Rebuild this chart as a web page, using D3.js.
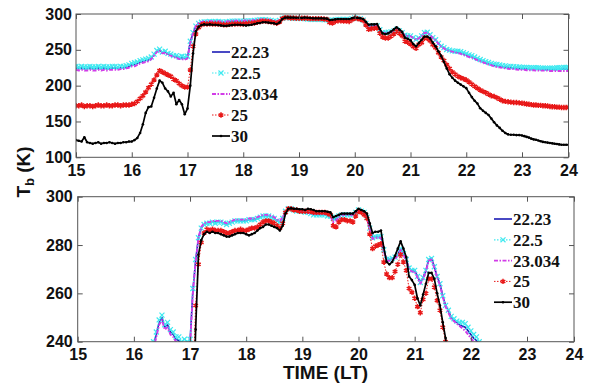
<!DOCTYPE html>
<html>
<head>
<meta charset="utf-8">
<script src="https://cdn.jsdelivr.net/npm/d3@7"></script>
<style>
  body { margin: 0; background: #fff; }
  svg { display: block; }
</style>
</head>
<body>
<svg id="chart" width="595" height="392"></svg>
<script>
// Brightness temperature samples, one every 0.05 h from 15.00 to 24.00 LT
const t0 = 15, dt = 0.05;

const tb2223 = [
  224.5,223.5,224.5,223.5,223.5,224.5,223.5,223.5,224.5,223.5, 224.5,223.5,224,224.5,224.5,224,225,225,226,227, 229,
  229.5,231,233,234,235,236,238.5,243,248,250, 246,247,244,243,241,240.5,238.5,239,238,239.5,
  261,273.5,283,287,288.5,289,289,289.5,289.5,289.5,
  289.5,289,288.5,289,289.5,290,290,290,290,290, 290.5,290.5,290.5,291,291.5,292,292,292,291.5,291, 290,289.5,291,294,295,295,
  294.5,294,294,294,293.5,293.5,293,292.5,292.5,292.5, 292.5,292.5,292,292,290.5,291,292,292.5,292.5,292.5, 292.5,292.5,293.5,294.5,294,293.5,291.5,
  287,283,283.5,283.5,283.5,278,274,274,274.5,275, 276,278.5,276.5,274,270.5,269.5,269.5,267,264.5,266.5, 269.5,274,274.5,271,267,264,259,255,253,
  250,249,248,247,246.5,246,244.5,243,241.5,240.5, 238.5,237,235,234,232,231,230,228.5,228,227, 226.5,226,225.5,225,224.5,224.5,224,224,223.5,223.5,
  223.5,223,223,223,223,222.5,222.5,222.5,222.5,222.5, 222.5,222.5,222.5,223,223,223,223,223
];

const tb225 = [
  227,226,227,226,226,227,226,226,227,226, 227,226,226,227,227,226,227,227,228,229, 231,
  232,233,235,236,237,238,240,244,249,251, 247,248,245,244,242,242,240,241,240,241,
  262,274,283,287,288.5,289,289,289.5,289,289.5,
  289.5,289,288.5,289,289.5,290,290,290,290,290, 290.5,290.5,290.5,291,291.5,292,292,292,291.5,291, 290,289.5,291,294,295,295,
  294.5,294,294,294,293.5,293.5,293,292.5,292.5,292.5, 292.5,292.5,292,292,291,291.5,292,292.5,292.5,292.5, 292.5,292.5,293.5,294.5,294,293.5,291.5,
  287,283,283.5,283.5,283.5,278,274,274,274.5,275, 276,278.5,276.5,274,270.5,269.5,269.5,267,264.5,266.5, 269.5,274,274.5,271,267,264,259,255,253,
  250.5,249.5,248.5,248,248,247.5,246,244.5,243,242, 240,238,236.5,235,233.5,232.5,231,230,229.5,229, 228,227.5,227,227,226.5,226,226,225.5,225.5,225.5,
  225,225,225,225,225,224.5,224.5,224.5,224.5,224.5, 224.5,224.5,225,225,225,225.5,225.5,225.5
];

const tb23034 = [
  222,221,222,221,221,222,221,221,222,221, 222,221,222,222,222,222,223,223,224,225, 227,
  227,229,231,232,233,234,237,242,247,249, 245,246,243,242,240,239,237,237,236,238,
  260,273,283,287.5,289,289.5,289.5,290,290,290,
  290,289.5,289,289.5,290,290.5,290.5,290.5,290.5,290.5, 291,291,291,291.5,292,292.5,292.5,292.5,292,291.5, 290.5,290,291.5,294,295,295,
  294.5,294,294,294,293.5,293.5,293,293,293,293, 293,293,292.5,292,289.5,290,291.5,292.5,292.5,292.5, 292.5,292.5,293.5,294.5,294,293.5,291,
  286.5,282.5,283,283,283,277.5,273.5,273.5,274,274.5, 275.5,278,276,273.5,270,269,269,266.5,264,266, 269,273.5,274,270.5,266.5,263.5,258.5,254.5,252,
  249.5,248.5,247.5,246.5,245.5,244.5,243,241.5,240,239, 237.5,235.5,234,232.5,231,229.5,228.5,227,226,225.5, 225,224,223.5,223,223,222.5,222,222,222,221.5,
  221.5,221.5,221.5,221,221,221,221,221,221,220.5, 220.5,220.5,220.5,220.5,220.5,220.5,220.5,220.5
];

const tb25 = [
  172,172,173,171,172,172,171,172,173,172, 172,173,172,172,173,173,172,173,173,173, 174,
  175,178,182,186,191,197,202,208,215,221, 219,217,215,213,209,207,203,200,198,198,
  222,255,272,281,285,286.5,286,286.5,286,286,
  286,285.5,285,285,285.5,286,286,286.5,286,286, 286.5,287,287,287.5,288.5,289.5,290,290,289.5,289, 288,287,289,293.5,295,295,
  294.5,294.5,294,294,294,294,294,293.5,293.5,293.5, 293.5,293.5,293,292.5,288,287.5,289.5,290.5,290.5,290, 290,289.5,292,294,293.5,292.5,291,
  284.5,278.5,279.5,280,280.5,273,268,266.5,266.5,269, 272,276,273,269.5,262,260.5,258,254.5,252,257.5, 260,266,266,262.5,257,253,246,240,235,
  229,224,219,216,213,211,209.5,208,205,202, 199,196.5,194,192,190,188,186,185,183,181, 179,178,177.5,177,176.5,176.5,176,175.5,175,174.5,
  174,173.5,173,173,172.5,172.5,172,172,171.5,171, 170.5,170.5,170,170,169.5,169.5,169.5,170
];

const tb30 = [
  124,123,122,128,121,120,119,120,121,119, 120,120,121,120,119,120,120,121,121,122, 122,
  124,127,134,146,162,170,171,183,196,207, 204,196,192,185,190,174,180,174,160,168,
  200,245,276,282,284.5,285.5,285,285.5,285,285,
  284.5,284,283.5,283.5,284,284.5,285,285,285,284.5, 284,284.5,285,286,287,287.5,288.5,288.5,288,287.5, 287,286,288,293,295,295.2,
  295,295,294.8,294.8,294.5,295,294.8,294.5,294,294, 294,294,293.8,293.5,291.5,292,292.5,293,293,293, 293,293,294,295,294.5,294,293,
  289,285,285.5,285.5,286,279,273,272,273,275.5, 278.5,281.5,278.5,275,267,265.5,263.5,258,255,259.5, 264,268.5,268.5,266,260,255,248,241.5,233,
  224,216,211,207,204,201.5,199,196.5,190,184, 179,175,168.5,165,162,159,154,149,144.5,141, 137,134,132,131.5,131.5,131,131,130.5,129.5,128.5,
  127.5,126,125,124.5,123.5,122.5,121.5,121,120.5,120, 119.5,119,118.5,118,117.5,117.5,117.5,117.5
];

const seriesNames = ["22.23", "22.5", "23.034", "25", "30"];
const xTicks = [15, 16, 17, 18, 19, 20, 21, 22, 23, 24];
const yTicksTop = [100, 150, 200, 250, 300];
const yTicksBottom = [240, 260, 280, 300];

// Line/marker styling, drawn in this order (last on top)
const series = [
  { name: seriesNames[0], values: tb2223,  color: "#1b1bb5", width: 1.6, dash: null,            marker: null },
  { name: seriesNames[1], values: tb225,   color: "#3fe9f0", width: 1.2, dash: "1.5,1.5",       marker: "times" },
  { name: seriesNames[2], values: tb23034, color: "#d23ce8", width: 1.9, dash: "4,1.5,1.5,1.5", marker: null },
  { name: seriesNames[3], values: tb25,    color: "#e81818", width: 1.0, dash: "1.5,1.5",       marker: "asterisk" },
  { name: seriesNames[4], values: tb30,    color: "#000000", width: 1.7, dash: null,            marker: "dot" }
];

const svg = d3.select("#chart");
const frameColor = "#555";

function markerPath(kind) {
  if (kind === "times") return d3.symbol(d3.symbolTimes, 18)();
  if (kind === "asterisk") return d3.symbol(d3.symbolAsterisk, 20)();
  return null;
}

function drawMarker(sel, kind, color) {
  if (kind === "dot") {
    sel.append("circle").attr("r", 1.3).attr("fill", color);
  } else if (kind) {
    sel.append("path").attr("d", markerPath(kind))
      .attr("fill", "none").attr("stroke", color)
      .attr("stroke-width", kind === "asterisk" ? 1.5 : 1.2);
  }
}

function drawPanel(id, cfg) {
  const g = svg.append("g");
  const x = d3.scaleLinear().domain([15, 23, 24]).range([cfg.left, cfg.x23, cfg.right]);
  const y = d3.scaleLinear().domain(cfg.yDomain).range([cfg.bottom, cfg.top]);

  g.append("clipPath").attr("id", "clip-" + id)
    .append("rect")
    .attr("x", cfg.left).attr("y", cfg.top)
    .attr("width", cfg.right - cfg.left).attr("height", cfg.bottom - cfg.top);

  const plot = g.append("g").attr("clip-path", `url(#clip-${id})`);
  const tAt = i => t0 + i * dt;
  const line = d3.line().x((d, i) => x(tAt(i))).y(d => y(d));

  series.forEach(s => {
    const sg = plot.append("g");
    sg.append("path")
      .attr("d", line(s.values))
      .attr("fill", "none")
      .attr("stroke", s.color)
      .attr("stroke-width", s.width)
      .attr("stroke-dasharray", s.dash)
      .attr("stroke-linejoin", "round");
    if (s.marker) {
      s.values.forEach((v, i) => {
        const m = sg.append("g").attr("transform", `translate(${x(tAt(i))},${y(v)})`);
        drawMarker(m, s.marker, s.color);
      });
    }
  });

  // Axes with inward ticks on all four sides
  const tickFont = g => g.selectAll("text")
    .attr("font-family", "'Liberation Sans', Arial, sans-serif")
    .attr("font-weight", "bold").attr("font-size", 16).attr("fill", "#111");
  const styleAxis = a => {
    a.select(".domain").remove();
    a.selectAll("line").attr("stroke", frameColor);
  };

  g.append("g").attr("transform", `translate(0,${cfg.bottom})`)
    .call(d3.axisBottom(x).tickValues(xTicks).tickFormat(d3.format("d")).tickSize(-5).tickPadding(7))
    .call(styleAxis).call(tickFont);
  g.append("g").attr("transform", `translate(0,${cfg.top})`)
    .call(d3.axisTop(x).tickValues(xTicks).tickFormat("").tickSize(-5))
    .call(styleAxis);
  g.append("g").attr("transform", `translate(${cfg.left},0)`)
    .call(d3.axisLeft(y).tickValues(cfg.yTicks).tickFormat(d3.format("d")).tickSize(-5).tickPadding(cfg.yPad))
    .call(styleAxis).call(tickFont);
  g.append("g").attr("transform", `translate(${cfg.right},0)`)
    .call(d3.axisRight(y).tickValues(cfg.yTicks).tickFormat("").tickSize(-5))
    .call(styleAxis);

  g.append("rect")
    .attr("x", cfg.left).attr("y", cfg.top)
    .attr("width", cfg.right - cfg.left).attr("height", cfg.bottom - cfg.top)
    .attr("fill", "none").attr("stroke", frameColor).attr("stroke-width", 1);

  // Legend
  const lg = g.append("g");
  series.forEach((s, i) => {
    const cy = cfg.legendY + i * cfg.legendStep;
    const row = lg.append("g");
    row.append("line")
      .attr("x1", cfg.legendX).attr("x2", cfg.legendX + 18)
      .attr("y1", cy).attr("y2", cy)
      .attr("stroke", s.color).attr("stroke-width", s.width)
      .attr("stroke-dasharray", s.dash);
    if (s.marker) {
      drawMarker(row.append("g").attr("transform", `translate(${cfg.legendX + 9},${cy})`), s.marker, s.color);
    }
    row.append("text")
      .attr("x", cfg.legendX + 19).attr("y", cy + 6)
      .attr("font-family", "'Liberation Serif', 'Times New Roman', serif")
      .attr("font-weight", "bold").attr("font-size", 17).attr("fill", "#111")
      .text(s.name);
  });
}

drawPanel("top", {
  left: 76, x23: 522, right: 568.5, top: 14, bottom: 157.3,
  yDomain: [100, 300], yTicks: yTicksTop, yPad: 4,
  legendX: 212, legendY: 52, legendStep: 21
});

drawPanel("bottom", {
  left: 77.7, x23: 527, right: 574, top: 196.7, bottom: 341.7,
  yDomain: [240, 300], yTicks: yTicksBottom, yPad: 5,
  legendX: 494, legendY: 219, legendStep: 20.8
});

// Axis titles
const yTitle = svg.append("text")
  .attr("transform", "translate(30,172) rotate(-90)")
  .attr("text-anchor", "middle")
  .attr("font-family", "'Liberation Sans', Arial, sans-serif")
  .attr("font-weight", "bold").attr("font-size", 19).attr("fill", "#111");
yTitle.append("tspan").text("T");
yTitle.append("tspan").attr("font-size", 13).attr("dy", 4).text("b");
yTitle.append("tspan").attr("dy", -4).text(" (K)");

svg.append("text")
  .attr("x", 325.5).attr("y", 379)
  .attr("text-anchor", "middle")
  .attr("font-family", "'Liberation Sans', Arial, sans-serif")
  .attr("font-weight", "bold").attr("font-size", 19).attr("fill", "#111")
  .text("TIME (LT)");
</script>
</body>
</html>
